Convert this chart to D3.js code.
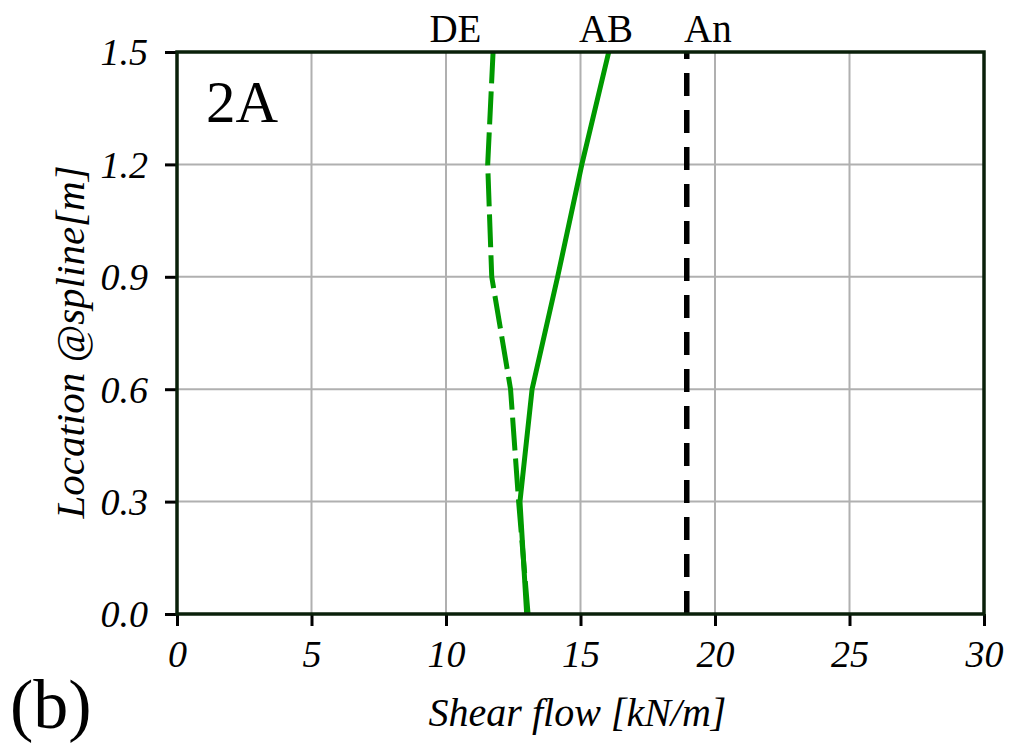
<!DOCTYPE html>
<html>
<head>
<meta charset="utf-8">
<script src="https://cdn.jsdelivr.net/npm/d3@7"></script>
<style>
  body { margin: 0; background: #fff; }
  text { font-family: "Liberation Serif", "Times New Roman", serif; }
</style>
</head>
<body>
<div id="chart"></div>
<script>
const canvas = { w: 1014, h: 743 };
const margin = { top: 52, right: 30, bottom: 129, left: 177 };

// data
const locations = [0.0, 0.3, 0.6, 0.9, 1.2, 1.5];
const abValues = [13.0, 12.75, 13.2, 14.15, 15.05, 16.05];
const deValues = [13.05, 12.7, 12.4, 11.7, 11.55, 11.75];
const anValue = 18.95;
const xTicks = [0, 5, 10, 15, 20, 25, 30];
const yTicks = [0.0, 0.3, 0.6, 0.9, 1.2, 1.5];
const topLabels = [
  { name: "DE", x: 10.35, anchor: "middle" },
  { name: "AB", x: 15.95, anchor: "middle" },
  { name: "An", x: 18.85, anchor: "start" }
];

const plotW = 984 - margin.left;
const plotH = 614 - margin.top;

const x = d3.scaleLinear().domain([0, 30]).range([0, plotW]);
const y = d3.scaleLinear().domain([0, 1.5]).range([plotH, 0]);

const svg = d3.select("#chart")
  .append("svg")
  .attr("width", canvas.w)
  .attr("height", canvas.h);

const g = svg.append("g")
  .attr("transform", `translate(${margin.left},${margin.top})`);

// grid
g.append("g")
  .selectAll("line")
  .data(xTicks)
  .enter()
  .append("line")
  .attr("x1", d => x(d)).attr("x2", d => x(d))
  .attr("y1", 0).attr("y2", plotH)
  .attr("stroke", "#b0b0b0")
  .attr("stroke-width", 2);

g.append("g")
  .selectAll("line")
  .data(yTicks)
  .enter()
  .append("line")
  .attr("y1", d => y(d)).attr("y2", d => y(d))
  .attr("x1", 0).attr("x2", plotW)
  .attr("stroke", "#b0b0b0")
  .attr("stroke-width", 2);

// axes
const xAxis = g.append("g")
  .attr("transform", `translate(0,${plotH})`)
  .call(d3.axisBottom(x).tickValues(xTicks).tickSize(12).tickPadding(14).tickFormat(d3.format("d")));

const yAxis = g.append("g")
  .call(d3.axisLeft(y).tickValues(yTicks).tickSize(12).tickPadding(17).tickFormat(d3.format(".1f")));

[xAxis, yAxis].forEach(a => {
  a.select(".domain").remove();
  a.selectAll(".tick line").attr("stroke", "#000").attr("stroke-width", 3);
  a.selectAll(".tick text")
    .attr("fill", "#000")
    .style("font-family", '"Liberation Serif", serif')
    .style("font-style", "italic")
    .style("font-size", "38px");
});
yAxis.selectAll(".tick text").attr("dy", "0.34em");

// lines
const line = d3.line()
  .x(d => x(d[0]))
  .y(d => y(d[1]));

g.append("path")
  .datum(abValues.map((v, i) => [v, locations[i]]))
  .attr("d", line)
  .attr("fill", "none")
  .attr("stroke", "#009900")
  .attr("stroke-width", 5)
  .attr("stroke-linejoin", "round");

g.append("path")
  .datum(deValues.map((v, i) => [v, locations[i]]))
  .attr("d", line)
  .attr("fill", "none")
  .attr("stroke", "#009900")
  .attr("stroke-width", 5)
  .attr("stroke-dasharray", "33 8");

g.append("path")
  .datum([[anValue, 0], [anValue, 1.5]])
  .attr("d", line)
  .attr("fill", "none")
  .attr("stroke", "#000")
  .attr("stroke-width", 5.5)
  .attr("stroke-dasharray", "23 14");

// frame
g.append("rect")
  .attr("x", 0).attr("y", 0)
  .attr("width", plotW).attr("height", plotH)
  .attr("fill", "none")
  .attr("stroke", "#0a200a")
  .attr("stroke-width", 3.5);

// top labels
g.append("g")
  .selectAll("text")
  .data(topLabels)
  .enter()
  .append("text")
  .attr("x", d => x(d.x))
  .attr("y", -10)
  .attr("text-anchor", d => d.anchor)
  .style("font-size", "39px")
  .text(d => d.name);

// panel tag
g.append("text")
  .attr("x", 29).attr("y", 70)
  .style("font-size", "59px")
  .text("2A");

svg.append("text")
  .attr("x", 10).attr("y", 728)
  .style("font-size", "70px")
  .text("(b)");

// axis titles
svg.append("text")
  .attr("x", margin.left + plotW / 2 - 3)
  .attr("y", 726)
  .attr("text-anchor", "middle")
  .style("font-size", "40px")
  .style("font-style", "italic")
  .text("Shear flow [kN/m]");

svg.append("text")
  .attr("transform", `translate(84,${margin.top + plotH / 2 + 9}) rotate(-90)`)
  .attr("text-anchor", "middle")
  .style("font-size", "41px")
  .style("font-style", "italic")
  .text("Location @spline[m]");
</script>
</body>
</html>
